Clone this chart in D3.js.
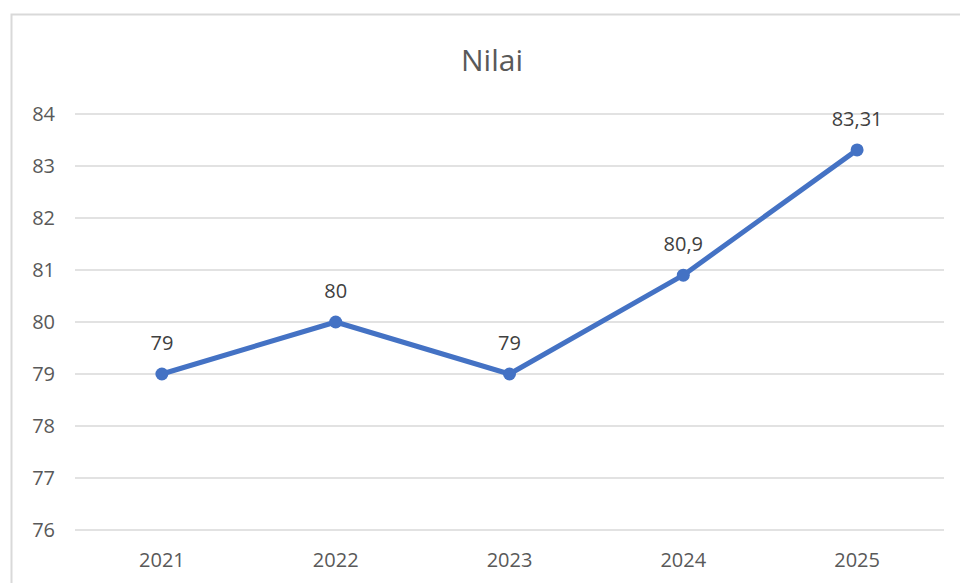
<!DOCTYPE html>
<html>
<head>
<meta charset="utf-8">
<script src="https://cdn.jsdelivr.net/npm/d3@7"></script>
<style>
  body { margin: 0; background: #fff; }
  svg { display: block; font-family: "Open Sans", sans-serif; }
</style>
</head>
<body>
<svg id="chart" width="960" height="583"></svg>
<script>
// data
var years = ['2021', '2022', '2023', '2024', '2025'];
var nilai = [79, 80, 79, 80.9, 83.31];
var yTicks = [76, 77, 78, 79, 80, 81, 82, 83, 84];

var svg = d3.select('#chart');

// outer chart frame (cropped at right/bottom like the screenshot)
svg.append('rect')
  .attr('x', 11.5).attr('y', 14.5)
  .attr('width', 1000).attr('height', 700)
  .attr('fill', '#fff')
  .attr('stroke', '#d9d9d9').attr('stroke-width', 2);

var x = d3.scaleBand().domain(years).range([75, 944]);
var y = d3.scaleLinear().domain([76, 84]).range([530, 114]);

// title
svg.append('text')
  .attr('x', 492).attr('y', 71)
  .attr('text-anchor', 'middle')
  .attr('fill', '#595959')
  .style('font-size', '30px')
  .text('Nilai');

// gridlines
svg.append('g').selectAll('line')
  .data(yTicks)
  .join('line')
  .attr('x1', 75).attr('x2', 944)
  .attr('y1', function(d) { return y(d); })
  .attr('y2', function(d) { return y(d); })
  .attr('stroke', '#d9d9d9').attr('stroke-width', 1.5);

// y labels
var yAxis = d3.axisLeft(y).tickValues(yTicks).tickSize(0).tickPadding(0);
svg.append('g')
  .attr('transform', 'translate(55,0)')
  .call(yAxis)
  .call(function(g) { g.select('.domain').remove(); })
  .selectAll('text')
  .attr('fill', '#595959')
  .style('font-size', '20px')
  .style('font-family', '"Open Sans", sans-serif');

// x labels
var xAxis = d3.axisBottom(x).tickSize(0).tickPadding(0);
svg.append('g')
  .attr('transform', 'translate(0,561)')
  .call(xAxis)
  .call(function(g) { g.select('.domain').remove(); })
  .selectAll('text')
  .attr('fill', '#595959')
  .attr('dy', '0.32em')
  .style('font-size', '20px')
  .style('font-family', '"Open Sans", sans-serif');

var pts = years.map(function(d, i) { return { year: d, v: nilai[i] }; });
var cx = function(d) { return x(d.year) + x.bandwidth() / 2; };

// line
svg.append('path')
  .datum(pts)
  .attr('fill', 'none')
  .attr('stroke', '#4472c4')
  .attr('stroke-width', 5)
  .attr('stroke-linejoin', 'round')
  .attr('d', d3.line().x(cx).y(function(d) { return y(d.v); }));

// markers
svg.append('g').selectAll('circle')
  .data(pts)
  .join('circle')
  .attr('cx', cx)
  .attr('cy', function(d) { return y(d.v); })
  .attr('r', 6.5)
  .attr('fill', '#4472c4');

// data labels
svg.append('g').selectAll('text')
  .data(pts)
  .join('text')
  .attr('x', cx)
  .attr('y', function(d) { return y(d.v) - 24; })
  .attr('text-anchor', 'middle')
  .attr('fill', '#404040')
  .style('font-size', '20px')
  .text(function(d) { return String(d.v).replace('.', ','); });
</script>
</body>
</html>
